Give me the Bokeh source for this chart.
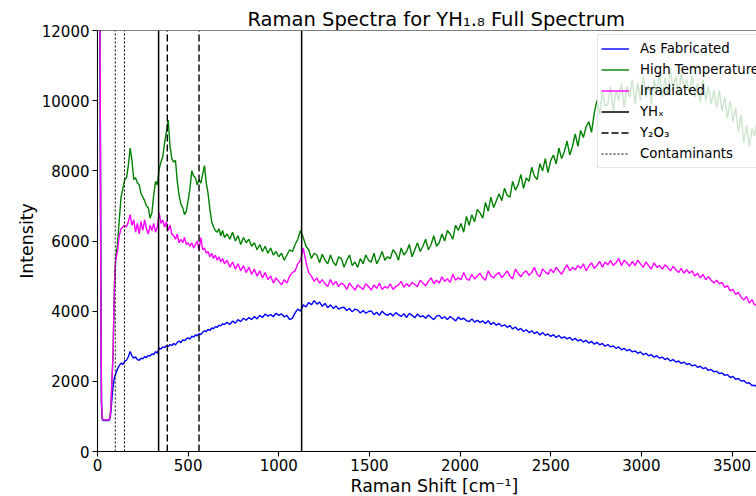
from bokeh.plotting import figure
from bokeh.models import Range1d, Legend, LegendItem, Span, FixedTicker, Title
from bokeh.embed import file_html
from bokeh.resources import INLINE

# ---------------- data ----------------
x_pre = [0, 10, 18, 22, 26, 30, 40, 50, 60, 66, 70, 74, 78, 82, 86, 90, 94]
x_mid = list(range(100, 701, 10))
x_tail = list(range(715, 3701, 15))
raman_shift = x_pre + x_mid + x_tail

as_fabricated = [
    60000, 20000, 5000, 1300, 920, 890, 880, 880, 885, 900, 960, 1150, 1400, 1650, 1850, 2000, 2120,
    # 100 .. 700
    2200, 2350, 2450, 2520, 2480, 2580, 2600, 2700, 2850, 2720,
    2660, 2700, 2620, 2600, 2660, 2640, 2700, 2680, 2740, 2720,
    2780, 2760, 2850, 2800, 2950, 2920, 2980, 2960, 3020, 2990,
    3050, 3020, 3080, 3040, 3110, 3150, 3100, 3180, 3160, 3210,
    3240, 3200, 3290, 3260, 3320, 3300, 3360, 3330, 3400, 3440,
    3420, 3480, 3450, 3520, 3500, 3560, 3540, 3600, 3580, 3640,
    3620,
    # 715 .. 3700
    3680, 3620, 3720, 3660, 3760, 3700, 3800, 3740, 3820, 3760,
    3850, 3780, 3880, 3820, 3920, 3860, 3900, 3840, 3940, 3880,
    3920, 3840, 3880, 3760, 3800, 3950, 4060, 4000, 4180, 4120,
    4250, 4180, 4300, 4200, 4260, 4140, 4220, 4100, 4180, 4080,
    4150, 4060, 4100, 4110, 4020, 4080, 3980, 4060, 4030, 3950,
    4020, 3940, 3990, 4010, 3900, 3970, 3880, 4000, 3920, 3880,
    3940, 3860, 3960, 3900, 3850, 3930, 3820, 3940, 3880, 3810,
    3920, 3840, 3870, 3800, 3890, 3820, 3760, 3860, 3880, 3790,
    3840, 3760, 3850, 3790, 3720, 3830, 3760, 3800, 3730, 3700,
    3780, 3690, 3740, 3680, 3720, 3650, 3730, 3620, 3680, 3600,
    3650, 3570, 3610, 3540, 3590, 3490, 3550, 3460, 3510, 3420,
    3470, 3390, 3440, 3360, 3410, 3320, 3390, 3310, 3350, 3280,
    3330, 3250, 3310, 3230, 3270, 3210, 3250, 3170, 3230, 3150,
    3190, 3120, 3170, 3090, 3140, 3060, 3110, 3040, 3080, 3000,
    3050, 2980, 3010, 2940, 2980, 2900, 2940, 2870, 2910, 2840,
    2870, 2800, 2840, 2760, 2800, 2730, 2760, 2690, 2730, 2660,
    2690, 2620, 2660, 2580, 2620, 2550, 2580, 2510, 2550, 2480,
    2510, 2440, 2470, 2400, 2430, 2360, 2390, 2310, 2340, 2270,
    2290, 2220, 2240, 2170, 2190, 2110, 2140, 2060, 2080, 2010,
    2020, 1950, 1960, 1880, 1890, 1830, 1840, 1770, 1780, 1710,
]

high_temperature = [
    60000, 20000, 5000, 1400, 950, 910, 900, 900, 905, 925, 1000, 1300, 1800, 2300, 2800, 3900, 4800,
    # 100 .. 700
    5450, 5900, 6600, 7250, 7500, 7750, 7800, 8150, 8650, 8300,
    7750, 7800, 7650, 7600, 7350, 7250, 7150, 7000, 6950, 6650,
    6800, 7300, 7700, 7600, 8050, 8250, 8400, 8800, 9100, 9450,
    8700, 8350, 8250, 8300, 7700, 7300, 7050, 6950, 6750, 6850,
    7150, 7500, 8000, 7850, 7800, 7600, 7750, 7650, 7900, 8150,
    7650, 7350, 6900, 6550, 6400, 6300, 6250, 6350, 6150, 6300,
    6100,
    # 715 .. 3700
    6200, 6050, 6250, 6000, 6150, 5900, 6100, 5950, 6050, 5850,
    5950, 5750, 5900, 5700, 5850, 5650, 5800, 5600, 5700, 5550,
    5650, 5450, 5600, 5750, 5700, 5900, 6050, 6300, 6100, 5850,
    5750, 5500, 5650, 5600, 5380, 5620, 5450, 5350, 5600, 5400,
    5300, 5550, 5500, 5250, 5450, 5600, 5300, 5400, 5250, 5500,
    5350, 5600, 5450, 5400, 5650, 5350, 5500, 5700, 5450, 5550,
    5500, 5750, 5650, 5450, 5800, 5600, 5700, 5900, 5550, 5750,
    5950, 5700, 5850, 6050, 5750, 5900, 6150, 5850, 5950, 6200,
    6000, 6300, 6200, 6050, 6450, 6300, 6500, 6250, 6700, 6450,
    6750, 6550, 6900, 6800, 6650, 7100, 6850, 7250, 6950, 7150,
    7350, 7150, 7500, 7300, 7250, 7700, 7450, 7600, 7900, 7500,
    7800, 7700, 8100, 7850, 7750, 8200, 8000, 8350, 7950, 8300,
    8450, 8200, 8650, 8350, 8550, 8850, 8450, 8700, 9050, 8700,
    9150, 8950, 9250, 9400, 9100, 9650, 10000, 9600, 10250, 9850,
    9900, 10400, 9700, 10300, 10000, 10500, 9800, 10400, 10100, 10600,
    9900, 10500, 10000, 10700, 10100, 10450, 9900, 10600, 10200, 10800,
    10100, 10650, 10200, 10900, 10300, 10700, 10150, 10800, 10400, 10600,
    10200, 10700, 10100, 10500, 9950, 10600, 10000, 10400, 9900, 10300,
    9800, 10300, 9700, 10100, 9500, 10000, 9400, 9800, 9100, 9600,
    8800, 9300, 8700, 9200, 9000, 9500, 9100, 9400, 8900, 9300,
]

irradiated = [
    60000, 20000, 5000, 1400, 950, 910, 900, 900, 905, 925, 1000, 1300, 1800, 2300, 2800, 3900, 4800,
    # 100 .. 700
    5450, 5700, 6150, 6350, 6400, 6450, 6400, 6550, 6750, 6450,
    6600, 6250, 6500, 6200, 6550, 6300, 6600, 6350, 6200, 6450,
    6300, 6500, 6250, 6400, 6800, 6500, 6600, 6400, 6550, 6300,
    6450, 6200, 6150, 6050, 6200, 5950, 6050, 5950, 6100, 5900,
    5950, 5850, 5950, 5800, 5900, 6000, 5750, 6100, 5750, 5800,
    5650, 5700, 5550, 5650, 5500, 5600, 5450, 5550, 5400, 5500,
    5350,
    # 715 .. 3700
    5450, 5250, 5400, 5200, 5350, 5150, 5300, 5100, 5250, 5050,
    5200, 5000, 5150, 4950, 5100, 4900, 5000, 4800, 4950, 4850,
    4750, 4900, 4800, 5000, 5100, 5150, 5350, 5450, 5800, 5400,
    5100, 5000, 4850, 4950, 4800, 4900, 4780, 4700, 4900, 4750,
    4850, 4700, 4800, 4750, 4620, 4800, 4700, 4600, 4750, 4680,
    4620, 4780, 4700, 4600, 4750, 4650, 4800, 4620, 4700, 4660,
    4780, 4620, 4700, 4750, 4850, 4680, 4780, 4700, 4820, 4760,
    4700, 4880, 4800, 4720, 4850, 4950, 4780, 4880, 4800, 4980,
    4850, 4920, 4820, 5050, 4880, 4950, 4900, 5100, 4930, 4880,
    5050, 4920, 5000, 5080, 4950, 4880, 5150, 5000, 4950, 5050,
    5100, 4950, 5050, 5150, 5000, 4920, 5200, 5080, 4980, 5100,
    5150, 5020, 5100, 5250, 5050, 4980, 5200, 5120, 5050, 5200,
    5100, 5250, 5150, 5050, 5200, 5320, 5150, 5250, 5180, 5300,
    5220, 5350, 5150, 5280, 5380, 5220, 5300, 5420, 5250, 5400,
    5320, 5450, 5300, 5380, 5500, 5300, 5450, 5380, 5280, 5420,
    5300, 5450, 5350, 5250, 5400, 5300, 5200, 5380, 5250, 5300,
    5200, 5320, 5250, 5150, 5280, 5180, 5100, 5220, 5080, 5180,
    5080, 5150, 5000, 5080, 4950, 5050, 4900, 4980, 4880, 4800,
    4880, 4780, 4820, 4680, 4730, 4580, 4620, 4480, 4540, 4400,
    4320, 4420, 4230, 4330, 4170, 4230, 4070, 4150, 3980, 4050,
]

for name, arr in (("as_fabricated", as_fabricated), ("high_temperature", high_temperature),
                  ("irradiated", irradiated)):
    if len(arr) != len(raman_shift):
        raise ValueError(f"{name}: {len(arr)} values for {len(raman_shift)} shifts")

yhx_lines = [337, 1126]
y2o3_lines = [385, 560]
contaminant_lines = [98, 149]

x_ticks = [0, 500, 1000, 1500, 2000, 2500, 3000, 3500]
y_ticks = [0, 2000, 4000, 6000, 8000, 10000, 12000]
X_MIN, X_MAX = 0, 3635
Y_MIN, Y_MAX = 0, 12000

title_text = "Raman Spectra for YH\u2081.\u2088 Full Spectrum"
x_label = "Raman Shift [cm\u207b\u00b9]"
y_label = "Intensity"
legend_labels = ["As Fabricated", "High Temperature", "Irradiated",
                 "YH\u2093", "Y\u2082O\u2083", "Contaminants"]

# ---------------- figure ----------------
FONT = "DejaVu Sans"
FIG_W, FIG_H = 756, 496
BORDER_L, BORDER_T, BORDER_B = 97, 30, 45

p = figure(width=FIG_W, height=FIG_H, x_range=Range1d(X_MIN, X_MAX), y_range=Range1d(Y_MIN, Y_MAX),
           output_backend="svg", toolbar_location=None,
           min_border_left=BORDER_L, min_border_right=0, min_border_top=BORDER_T,
           min_border_bottom=BORDER_B)
p.outline_line_color = None
p.background_fill_color = "white"
p.border_fill_color = "white"
p.xgrid.visible = False
p.ygrid.visible = False

p.title.text = title_text
p.title.text_font = FONT
p.title.text_font_size = "19.5px"
p.title.text_font_style = "normal"
p.title.text_color = "black"
p.title.align = "left"
p.title.offset = 150
p.title.standoff = 0

for ax in (p.xaxis[0], p.yaxis[0]):
    ax.axis_line_color = "black"
    ax.axis_line_width = 1.1
    ax.major_tick_line_color = "black"
    ax.major_tick_line_width = 1.1
    ax.major_tick_in = 0
    ax.major_tick_out = 5
    ax.minor_tick_line_color = None
    ax.major_label_text_font = FONT
    ax.major_label_text_font_size = "15px"
    ax.major_label_text_color = "black"
p.xaxis.major_label_standoff = 2
p.yaxis.major_label_standoff = 3
p.xaxis.ticker = FixedTicker(ticks=x_ticks)
p.yaxis.ticker = FixedTicker(ticks=y_ticks)

p.yaxis.axis_label = y_label
p.yaxis.axis_label_text_font = FONT
p.yaxis.axis_label_text_font_size = "17.4px"
p.yaxis.axis_label_text_font_style = "normal"
p.yaxis.axis_label_text_color = "black"
p.yaxis.axis_label_standoff = 2

p.add_layout(Title(text=x_label, align="left", offset=253, standoff=0,
                   text_font=FONT, text_font_size="17.4px", text_font_style="normal",
                   text_color="black"), "below")

# top spine
p.add_layout(Span(location=Y_MAX, dimension="width", line_color="black", line_width=1.1))

LW = 1.4
r_fab = p.line(raman_shift, as_fabricated, line_color="#0000ff", line_width=LW)
r_ht = p.line(raman_shift, high_temperature, line_color="#008000", line_width=LW)
r_irr = p.line(raman_shift, irradiated, line_color="#ff00ff", line_width=LW)

r_yhx = p.segment(x0=yhx_lines, x1=yhx_lines, y0=[Y_MIN] * len(yhx_lines), y1=[Y_MAX] * len(yhx_lines),
                  line_color="black", line_width=1.5)
r_y2o3 = p.segment(x0=y2o3_lines, x1=y2o3_lines, y0=[Y_MIN] * len(y2o3_lines), y1=[Y_MAX] * len(y2o3_lines),
                   line_color="black", line_width=1.4, line_dash="7 3")
r_cont = p.segment(x0=contaminant_lines, x1=contaminant_lines, y0=[Y_MIN] * len(contaminant_lines),
                   y1=[Y_MAX] * len(contaminant_lines), line_color="black", line_width=1.0,
                   line_dash="2 2")

# ---------------- legend ----------------
LEG_X, LEG_Y = 500, 283
legend = Legend(
    items=[LegendItem(label=lab, renderers=[r])
           for lab, r in zip(legend_labels, [r_fab, r_ht, r_irr, r_yhx, r_y2o3, r_cont])],
    location=(LEG_X, LEG_Y), orientation="vertical", padding=3, spacing=0, margin=0,
    glyph_width=28, glyph_height=21, label_height=21, label_standoff=11,
    label_text_font=FONT, label_text_font_size="13.3px", label_text_color="black",
    border_line_color="#cccccc", border_line_width=1, background_fill_color="white",
    background_fill_alpha=0.8,
)
p.add_layout(legend)

open("out.html", "w").write(file_html(p, INLINE))
